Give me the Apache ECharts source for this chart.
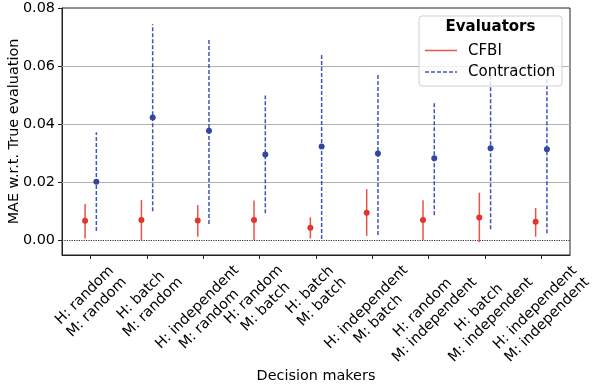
<!DOCTYPE html>
<html><head><meta charset="utf-8">
<script src="https://cdn.jsdelivr.net/npm/echarts@6/dist/echarts.min.js"></script>
<style>html,body{margin:0;padding:0;background:#fff}#c{width:593px;height:388px}</style>
</head><body><div id="c"></div>
<script>
// ---- data ----
const categories = [
  "H: random\nM: random", "H: batch\nM: random", "H: independent\nM: random",
  "H: random\nM: batch", "H: batch\nM: batch", "H: independent\nM: batch",
  "H: random\nM: independent", "H: batch\nM: independent", "H: independent\nM: independent"
];
const cfbiMean = [0.0066, 0.0069, 0.0067, 0.0069, 0.0042, 0.0094, 0.0069, 0.0077, 0.0063];
const cfbiLow  = [0.0005, 0.0000, 0.0011, 0.0000, 0.0005, 0.0014, 0.0000, -0.0008, 0.0011];
const cfbiHigh = [0.0124, 0.0138, 0.0120, 0.0136, 0.0078, 0.0175, 0.0137, 0.0163, 0.0110];
const conMean  = [0.0201, 0.0422, 0.0377, 0.0295, 0.0322, 0.0298, 0.0282, 0.0316, 0.0313];
const conLow   = [0.0031, 0.0099, 0.0055, 0.0092, 0.0003, 0.0017, 0.0085, 0.0037, 0.0023];
const conHigh  = [0.0371, 0.0744, 0.0693, 0.0498, 0.0641, 0.0572, 0.0475, 0.0575, 0.0600];
const yTicks = [0, 0.02, 0.04, 0.06, 0.08];
const gridValues = [0.02, 0.04, 0.06];
const seriesNames = ["CFBI", "Contraction"];
const legendTitle = "Evaluators";
const xTitle = "Decision makers";
const yTitle = "MAE w.r.t. True evaluation";

// ---- styles ----
const FONT = '"DejaVu Sans", sans-serif';
const RED = "#e2352b", RED_LINE = "rgba(226,53,43,0.85)";
const BLUE = "#3346a6", BLUE_LINE = "rgba(45,65,175,0.9)";
const OFF = 0.1;

const xIdx = categories.map((_, i) => i);
const cfbiPts = cfbiMean.map((v, i) => [i - OFF, v]);
const conPts = conMean.map((v, i) => [i + OFF, v]);
const cfbiBars = cfbiMean.map((_, i) => [i - OFF, cfbiLow[i], cfbiHigh[i]]);
const conBars = conMean.map((_, i) => [i + OFF, conLow[i], conHigh[i]]);

function barRenderer(color, dash) {
  return function (params, api) {
    const x = api.value(0), lo = api.value(1), hi = api.value(2);
    const p1 = api.coord([x, lo]), p2 = api.coord([x, hi]);
    return { type: 'line', shape: { x1: p1[0], y1: p1[1], x2: p2[0], y2: p2[1] },
      style: { stroke: color, lineWidth: 1.5, lineDash: dash } };
  };
}

const chart = echarts.init(document.getElementById('c'), null, { renderer: 'canvas' });
const option = {
  animation: false,
  backgroundColor: '#fff',
  textStyle: { fontFamily: FONT },
  grid: { left: 62, right: 23, top: 8, bottom: 133, show: true, borderColor: '#222', borderWidth: 1,
          containLabel: false, outerBoundsMode: 'none' },
  xAxis: {
    type: 'value', min: -0.51, max: 8.51,
    name: xTitle, nameLocation: 'middle', nameGap: 114, nameMoveOverlap: false,
    nameTextStyle: { fontSize: 14.4, color: '#000', fontFamily: FONT },
    axisLine: { show: true, onZero: false, lineStyle: { color: '#222', width: 1 } },
    axisTick: { show: true, length: 4, customValues: xIdx, lineStyle: { color: '#222' } },
    axisLabel: { show: false },
    splitLine: { show: false }
  },
  yAxis: {
    type: 'value', min: -0.0052, max: 0.08,
    name: yTitle, nameLocation: 'middle', nameGap: 41, nameMoveOverlap: false,
    nameTextStyle: { fontSize: 14.4, color: '#000', fontFamily: FONT },
    axisLine: { show: true, onZero: false, lineStyle: { color: '#222', width: 1 } },
    axisTick: { show: true, length: 4, customValues: yTicks, lineStyle: { color: '#222' } },
    axisLabel: { show: true, customValues: yTicks, margin: 7, fontSize: 14.4, color: '#000',
                 fontFamily: FONT, formatter: v => Number(v).toFixed(2) },
    splitLine: { show: false }
  },
  series: [
    { type: 'line', data: [], z: 1, silent: true,
      markLine: { silent: true, z: 1, symbol: 'none', label: { show: false }, animation: false,
        data: gridValues.map(v => ({ yAxis: v, lineStyle: { color: '#b0b0b0', width: 1, type: 'solid' } }))
          .concat([{ yAxis: 0, lineStyle: { color: '#333', width: 1.2, type: [1.2, 1.2] } }]) } },
    { name: seriesNames[0] + ' bars', type: 'custom', data: cfbiBars, z: 2,
      encode: { x: 0, y: [1, 2] }, renderItem: barRenderer(RED_LINE, null) },
    { name: seriesNames[1] + ' bars', type: 'custom', data: conBars, z: 2,
      encode: { x: 0, y: [1, 2] }, renderItem: barRenderer(BLUE_LINE, [4, 2]) },
    { name: seriesNames[0], type: 'scatter', data: cfbiPts, z: 3, symbolSize: 6,
      itemStyle: { color: RED, opacity: 1 } },
    { name: seriesNames[1], type: 'scatter', data: conPts, z: 3, symbolSize: 6,
      itemStyle: { color: BLUE, opacity: 1 } }
  ]
};
chart.setOption(option);

// ---- rotated x tick labels (matplotlib-style: rotated 45deg, bbox centred on tick) ----
const ctx = document.createElement('canvas').getContext('2d');
const FS = 14.4, LH = 17;
ctx.font = FS + 'px ' + FONT;
const yBottom = chart.convertToPixel({ yAxisIndex: 0 }, -0.0052);
const Y0 = yBottom + 7;
const k = Math.SQRT1_2;
const graphics = [];
categories.forEach((c, i) => {
  const lines = c.split('\n');
  const W = Math.max(...lines.map(l => ctx.measureText(l).width));
  const H = LH * lines.length;
  const cx = chart.convertToPixel({ xAxisIndex: 0 }, i);
  const cy = Y0 + k * (W + H) / 2;
  graphics.push({ type: 'text', x: cx, y: cy, rotation: Math.PI / 4, z: 10,
    style: { text: c, font: FS + 'px ' + FONT, fill: '#000', textAlign: 'center', align: 'center',
             textVerticalAlign: 'middle', verticalAlign: 'middle', lineHeight: LH } });
});

// ---- legend ----
const LX = 419, LY = 16, LW = 143, LHgt = 70;
graphics.push({ type: 'rect', z: 20, shape: { x: LX, y: LY, width: LW, height: LHgt, r: 3 },
  style: { fill: 'rgba(255,255,255,0.8)', stroke: '#d0d0d0', lineWidth: 1 } });
graphics.push({ type: 'text', z: 21, x: LX + LW / 2, y: 27,
  style: { text: legendTitle, font: 'bold 15px ' + FONT, fill: '#000', textAlign: 'center', align: 'center',
           textVerticalAlign: 'middle', verticalAlign: 'middle' } });
graphics.push({ type: 'line', z: 21, shape: { x1: 425, y1: 50.5, x2: 457, y2: 50.5 },
  style: { stroke: RED_LINE, lineWidth: 1.5 } });
graphics.push({ type: 'text', z: 21, x: 468, y: 51,
  style: { text: seriesNames[0], font: '15px ' + FONT, fill: '#000', textAlign: 'left', align: 'left',
           textVerticalAlign: 'middle', verticalAlign: 'middle' } });
graphics.push({ type: 'line', z: 21, shape: { x1: 425, y1: 72, x2: 457, y2: 72 },
  style: { stroke: BLUE_LINE, lineWidth: 1.5, lineDash: [4, 2] } });
graphics.push({ type: 'text', z: 21, x: 468, y: 72,
  style: { text: seriesNames[1], font: '15px ' + FONT, fill: '#000', textAlign: 'left', align: 'left',
           textVerticalAlign: 'middle', verticalAlign: 'middle' } });

chart.setOption({ graphic: { elements: graphics } });
</script>
</body></html>
